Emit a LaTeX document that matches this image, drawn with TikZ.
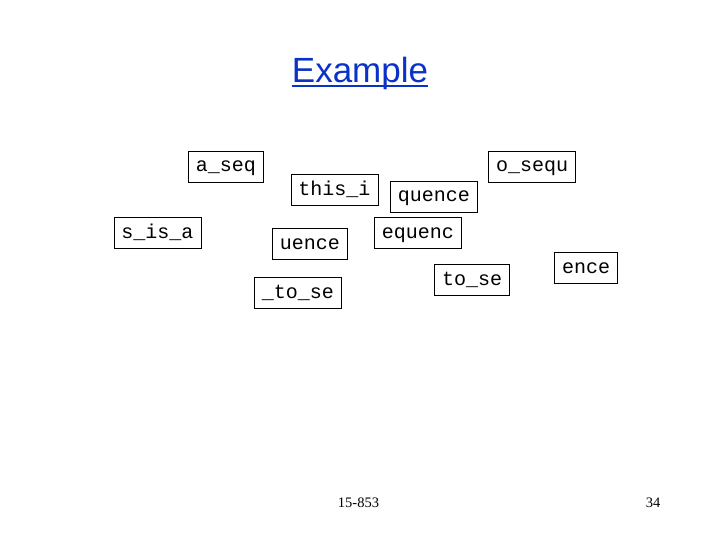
\documentclass[tikz,border=0pt]{standalone}
\usepackage{fontspec}
\setmainfont{Liberation Serif}
\setsansfont{Liberation Sans}
\setmonofont{Liberation Mono}
\usepackage{xcolor}
\definecolor{TitleBlue}{RGB}{10,50,200}
\tikzset{%
  WordBox/.style={draw,line width=0.8pt,inner xsep=7.5pt,minimum height=31pt,
    text height=15pt,text depth=4pt,font=\ttfamily\fontsize{20}{20}\selectfont}
}

\begin{document}
\begin{tikzpicture}[x=1pt,y=-1pt]
  \useasboundingbox (0,0) rectangle (720,540);
  \node[anchor=base,text=TitleBlue,inner sep=0pt,
    font=\sffamily\fontsize{35}{35}\selectfont] (title) at (360,83) {Example};
  \draw[TitleBlue,line width=2.4pt]
  ([yshift=-3pt]title.base west) -- ([yshift=-3pt]title.base east);
  \foreach \word/\x/\y [count=\xi] in {
    a\_seq/226/166.5, this\_i/334.5/190, s\_is\_a/157.5/232.5,
    uence/310/244, o\_sequ/532/166.5, quence/434/196.5,
    equenc/418/232.5, \_to\_se/298/292.5, to\_se/472/280,
    ence/586/268
  }{ \node[WordBox] (w\xi) at (\x,\y) {\word};}
  \node[anchor=base,inner sep=0pt,font=\fontsize{14.5}{14.5}\selectfont]
  (course) at (358.5,507) {15-853};
  \node[anchor=base,inner sep=0pt,font=\fontsize{14.5}{14.5}\selectfont]
  (page) at (653,507) {34};
\end{tikzpicture}
\end{document}
